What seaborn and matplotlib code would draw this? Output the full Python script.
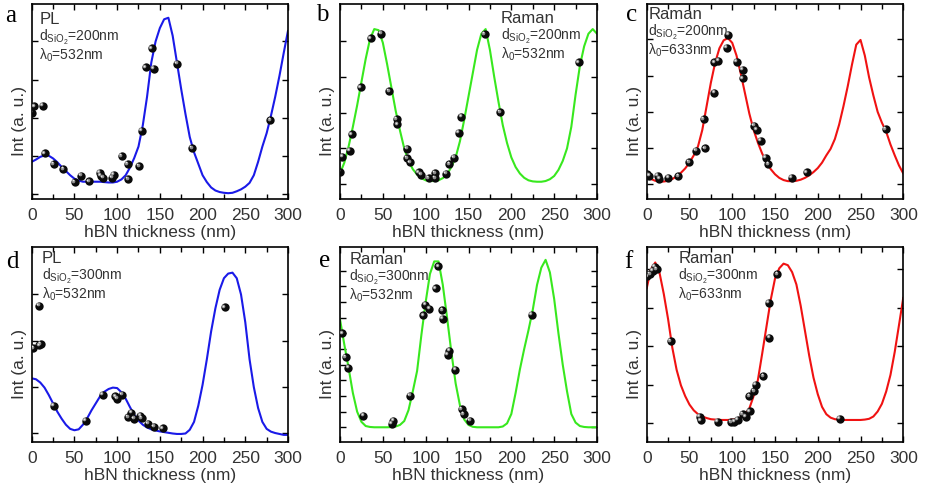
import numpy as np
import pandas as pd
import matplotlib
matplotlib.use("Agg")
import matplotlib.pyplot as plt
from matplotlib.ticker import MultipleLocator, FixedLocator, NullFormatter
from matplotlib.transforms import ScaledTranslation
import seaborn as sns

sns.set_theme(style="ticks")
plt.rcParams["font.family"] = ["Liberation Sans", "DejaVu Sans"]
plt.rcParams["mathtext.fontset"] = "custom"
plt.rcParams["mathtext.rm"] = "Liberation Sans"
plt.rcParams["mathtext.it"] = "Liberation Sans:italic"
plt.rcParams["mathtext.bf"] = "Liberation Sans:bold"

TEXT = "#333333"

# thickness grid of the calculated enhancement curves (nm)
thickness = np.arange(0, 301, 5)

# (a) PL, 200 nm SiO2, 532 nm excitation
a_meas_x = [0, 3.1, 12.9, 15.6, 25.7, 37.0, 50.3, 58.0, 67.4, 79.9, 80.6, 83.8, 94.3,
            96.2, 105.6, 112.2, 113.0, 125.8, 129.0, 133.6, 140.3, 142.6, 170.3, 187.8, 279.3]
a_meas_y = [2.13, 2.30, 2.32, 1.07, 0.79, 0.66, 0.32, 0.48, 0.34, 0.57, 0.48, 0.43, 0.43,
            0.51, 1.00, 0.79, 0.40, 0.74, 1.66, 3.32, 3.82, 3.28, 3.42, 1.21, 1.94]
a_fit = [0.85, 0.91, 0.98, 1.02, 1.01, 0.94, 0.84, 0.72, 0.61, 0.50,
         0.41, 0.36, 0.33, 0.33, 0.33, 0.33, 0.33, 0.32, 0.31, 0.31,
         0.33, 0.39, 0.50, 0.70, 0.95, 1.25, 1.80, 2.55, 3.45, 4.00,
         4.35, 4.58, 4.62, 4.15, 3.45, 2.75, 2.10, 1.50, 1.10, 0.80,
         0.50, 0.32, 0.18, 0.10, 0.06, 0.04, 0.03, 0.04, 0.08, 0.13,
         0.20, 0.30, 0.50, 0.85, 1.25, 1.60, 2.05, 2.55, 3.10, 3.70,
         4.28]

# (b) Raman, 200 nm SiO2, 532 nm excitation
b_meas_x = [0, 2.7, 11.7, 13.6, 24.5, 36.2, 47.9, 57.3, 66.2, 67.0, 78.3, 78.3, 81.8,
            92.0, 94.7, 103.6, 111.0, 111.0, 123.9, 127.8, 133.2, 138.7, 141.8, 168.7, 187.0, 279.0]
b_meas_y = [0.35, 0.77, 0.94, 1.39, 2.70, 4.07, 4.20, 2.60, 1.82, 1.67, 0.99, 0.73, 0.61,
            0.33, 0.26, 0.17, 0.31, 0.17, 0.29, 0.56, 0.74, 1.43, 1.88, 4.19, 2.01, 3.40]
b_fit = [0.30, 0.60, 1.05, 1.60, 2.20, 2.85, 3.50, 4.05, 4.33, 4.30,
         3.95, 3.35, 2.70, 2.05, 1.50, 1.00, 0.65, 0.42, 0.27, 0.17,
         0.11, 0.09, 0.09, 0.11, 0.17, 0.28, 0.48, 0.75, 1.20, 1.80,
         2.45, 3.10, 3.75, 4.20, 4.33, 3.75, 3.00, 2.30, 1.65, 1.15,
         0.75, 0.48, 0.30, 0.18, 0.11, 0.08, 0.07, 0.07, 0.09, 0.14,
         0.23, 0.40, 0.65, 1.00, 1.60, 2.50, 3.30, 3.85, 4.20, 4.33,
         4.20]

# (c) Raman, 200 nm SiO2, 633 nm excitation
c_meas_x = [0, 3.1, 12.9, 14.8, 25.3, 37.0, 49.5, 57.7, 67.0, 68.2, 79.1, 79.1, 83.8,
            93.5, 95.5, 105.6, 112.2, 112.2, 125.5, 128.6, 133.6, 139.5, 142.2, 169.9, 187.4, 279.3]
c_meas_y = [0.29, 0.24, 0.24, 0.15, 0.19, 0.23, 0.61, 0.93, 1.80, 0.99, 3.36, 2.53, 3.40,
            3.77, 4.12, 3.38, 3.16, 2.92, 1.61, 1.50, 1.20, 0.73, 0.56, 0.19, 0.33, 1.52]
c_fit = [0.22, 0.15, 0.10, 0.08, 0.08, 0.10, 0.15, 0.22, 0.32, 0.44,
         0.60, 0.80, 1.05, 1.50, 2.15, 2.80, 3.35, 3.75, 3.97, 4.03,
         3.90, 3.55, 3.05, 2.50, 1.95, 1.50, 1.15, 0.85, 0.62, 0.42,
         0.28, 0.18, 0.12, 0.09, 0.09, 0.10, 0.13, 0.18, 0.25, 0.34,
         0.45, 0.60, 0.80, 0.98, 1.25, 1.65, 2.15, 2.70, 3.30, 3.85,
         3.98, 3.55, 2.95, 2.45, 2.00, 1.70, 1.45, 1.10, 0.80, 0.52,
         0.30]

# (d) PL, 300 nm SiO2, 532 nm excitation
d_meas_x = [1.9, 8.6, 9.0, 10.5, 26.0, 63.5, 83.0, 98.0, 100.0, 105.8, 112.8, 116.7,
            119.8, 127.2, 128.8, 136.2, 143.2, 153.4, 225.9]
d_meas_y = [1.84, 2.76, 1.90, 1.93, 0.60, 0.28, 0.83, 0.80, 0.75, 0.84, 0.35, 0.45,
            0.32, 0.38, 0.33, 0.21, 0.15, 0.11, 2.72]
d_fit = [1.19, 1.17, 1.10, 0.99, 0.83, 0.65, 0.47, 0.32, 0.19, 0.10,
         0.07, 0.09, 0.19, 0.33, 0.50, 0.65, 0.80, 0.90, 0.96, 0.99,
         0.98, 0.89, 0.75, 0.57, 0.40, 0.28, 0.19, 0.13, 0.09, 0.065,
         0.045, 0.03, 0.015, 0.0, -0.01, -0.01, 0.0, 0.08, 0.25, 0.60,
         1.05, 1.60, 2.20, 2.70, 3.10, 3.35, 3.45, 3.47, 3.35, 3.00,
         2.40, 1.60, 1.00, 0.55, 0.25, 0.10, 0.04, 0.01, -0.01, -0.03,
         -0.03]

# (e) Raman, 300 nm SiO2, 532 nm excitation
e_meas_x = [2.7, 6.6, 9.7, 27.3, 60.4, 62.3, 81.8, 97.4, 99.7, 104.4, 111.8, 114.9,
            119.6, 120.0, 125.8, 127.8, 134.8, 142.2, 144.2, 151.9, 224.0]
e_meas_y = [6.00, 4.48, 3.79, 0.75, 0.21, 0.43, 2.01, 7.15, 7.82, 7.58, 8.87, 10.28,
            7.49, 6.94, 4.65, 4.90, 3.68, 1.16, 0.84, 0.43, 7.19]
e_fit = [6.90, 5.30, 3.80, 2.20, 1.00, 0.35, 0.08, 0.02, 0.00, 0.00,
         0.00, 0.00, 0.01, 0.05, 0.15, 0.40, 1.10, 2.30, 3.60, 5.90,
         8.00, 9.80, 10.60, 10.60, 9.10, 7.00, 4.80, 2.80, 1.40, 0.50,
         0.15, 0.03, 0.00, 0.00, 0.00, 0.00, 0.00, 0.00, 0.05, 0.25,
         0.85, 2.20, 3.70, 5.00, 6.20, 7.50, 9.10, 10.20, 10.70, 9.90,
         8.20, 6.00, 4.00, 2.30, 0.85, 0.30, 0.08, 0.02, 0.00, 0.00,
         0.00]

# (f) Raman, 300 nm SiO2, 633 nm excitation
f_meas_x = [0.8, 3.9, 7.0, 9.7, 11.7, 28.0, 62.3, 63.5, 83.0, 98.6, 102.5, 106.4, 112.2,
            116.0, 120.8, 120.0, 125.8, 127.8, 136.4, 143.4, 142.6, 152.7, 226.0]
f_meas_y = [3.81, 3.87, 3.96, 4.06, 4.00, 2.13, 0.17, 0.07, 0.04, 0.02, 0.04, 0.09, 0.23,
            0.17, 0.30, 0.70, 0.83, 1.00, 1.22, 2.22, 3.13, 3.87, 0.11]
f_fit = [3.50, 4.00, 4.17, 3.90, 3.35, 2.70, 1.95, 1.38, 0.98, 0.70,
         0.48, 0.33, 0.23, 0.17, 0.13, 0.10, 0.09, 0.08, 0.08, 0.08,
         0.09, 0.11, 0.15, 0.22, 0.38, 0.70, 1.12, 1.80, 2.50, 3.20,
         3.75, 4.02, 4.14, 4.10, 3.92, 3.60, 3.05, 2.40, 1.75, 1.18,
         0.75, 0.42, 0.23, 0.14, 0.10, 0.09, 0.08, 0.08, 0.08, 0.08,
         0.08, 0.09, 0.11, 0.17, 0.30, 0.50, 0.82, 1.25, 1.85, 2.55,
         3.26]

letters = ["a", "b", "c", "d", "e", "f"]
signals = ["PL", "Raman", "Raman", "PL", "Raman", "Raman"]
oxide_nm = [200, 200, 200, 300, 300, 300]
laser_nm = [532, 532, 633, 532, 532, 633]
meas_x = [a_meas_x, b_meas_x, c_meas_x, d_meas_x, e_meas_x, f_meas_x]
meas_y = [a_meas_y, b_meas_y, c_meas_y, d_meas_y, e_meas_y, f_meas_y]
fits = [a_fit, b_fit, c_fit, d_fit, e_fit, f_fit]

W, H = 925, 492
BLUE, GREEN, RED = "#1a1ae8", "#38e81e", "#f01212"
line_colors = [BLUE, GREEN, RED, BLUE, GREEN, RED]

# axes boxes in pixels: left, top, right, bottom
boxes = [(31.7, 4.0, 288.0, 199.3), (340.0, 4.0, 597.0, 199.3), (646.7, 4.0, 903.3, 199.3),
         (31.7, 246.7, 288.0, 442.3), (340.0, 246.7, 597.0, 442.3), (646.7, 246.7, 903.3, 442.3)]
ylims = [(-0.13, 4.98), (-0.42, 5.03), (-0.41, 4.97), (-0.19, 4.03), (-0.96, 11.54), (-0.5, 4.58)]
ntick = [4, 4, 4, 3, 10, 4]
# annotation: left (axes fraction) and baselines (pixels below the top spine)
note_x = [0.03, 0.625, 0.006, 0.039, 0.036, 0.123]
note_base = [(20, 37, 56), (19, 36, 55), (15, 32, 51), (16, 33, 52), (17, 34, 53), (16, 33, 52)]
# panel letters: left and baseline in pixels
letter_pos = [(5, 22), (316, 21), (626, 21), (6, 268), (319, 267), (624, 268)]

fig = plt.figure(figsize=(W / 100, H / 100), dpi=100)

for i in range(6):
    l, t, r, b = boxes[i]
    ax = fig.add_axes([l / W, 1 - b / H, (r - l) / W, (b - t) / H])
    fit_df = pd.DataFrame({"thickness": thickness, "intensity": fits[i]})
    sns.lineplot(data=fit_df, x="thickness", y="intensity", ax=ax, color=line_colors[i],
                 lw=1.5, zorder=2)
    pts = pd.DataFrame({"thickness": meas_x[i], "intensity": meas_y[i]})
    sns.scatterplot(data=pts, x="thickness", y="intensity", ax=ax, color="#0a0a0a",
                    s=36, linewidth=0, zorder=3)
    # glossy highlight on each sphere
    sns.scatterplot(data=pts, x="thickness", y="intensity", ax=ax, color="#8c8c8c",
                    s=7, linewidth=0, zorder=4)
    ax.collections[-1].set_offset_transform(
        ax.transData + ScaledTranslation(-1.1 / 72, 1.1 / 72, fig.dpi_scale_trans))
    sns.scatterplot(data=pts, x="thickness", y="intensity", ax=ax, color="#e6e6e6",
                    s=1.5, linewidth=0, zorder=5)
    ax.collections[-1].set_offset_transform(
        ax.transData + ScaledTranslation(-1.3 / 72, 1.3 / 72, fig.dpi_scale_trans))

    ax.set_xlim(0, 300)
    ax.set_ylim(*ylims[i])
    ax.xaxis.set_major_locator(MultipleLocator(50))
    ax.xaxis.set_minor_locator(MultipleLocator(25))
    ax.yaxis.set_major_locator(FixedLocator(list(range(ntick[i] + 1))))
    ax.yaxis.set_major_formatter(NullFormatter())
    ax.tick_params(which="both", direction="in", top=True, right=True, width=1.0,
                   color="black")
    ax.tick_params(which="major", length=4.5)
    ax.tick_params(which="minor", length=3.5)
    ax.tick_params(axis="x", labelsize=12.5, labelcolor=TEXT, pad=6)
    ax.tick_params(axis="y", labelleft=False)
    for sp in ax.spines.values():
        sp.set_linewidth(1.2)
        sp.set_color("black")
    ax.set_xlabel("hBN thickness (nm)", fontsize=12.5, color=TEXT, labelpad=2)
    ax.set_ylabel("Int (a. u.)", fontsize=12.5, color=TEXT)
    ax.yaxis.set_label_coords(-0.018, 0.40)

    hpx = b - t
    nb = note_base[i]
    ax.text(note_x[i], 1 - nb[0] / hpx, signals[i], transform=ax.transAxes,
            fontsize=12, color=TEXT, va="baseline", ha="left")
    ax.text(note_x[i], 1 - nb[1] / hpx, r"d$_{\rm SiO_2}$=%dnm" % oxide_nm[i],
            transform=ax.transAxes, fontsize=10, color=TEXT, va="baseline", ha="left")
    ax.text(note_x[i], 1 - nb[2] / hpx, r"λ$_{\rm 0}$=%dnm" % laser_nm[i],
            transform=ax.transAxes, fontsize=10, color=TEXT, va="baseline", ha="left")

    lx, ly = letter_pos[i]
    fig.text(lx / W, 1 - ly / H, letters[i], fontfamily=["Liberation Serif", "DejaVu Serif"],
             fontsize=18, color="black", va="baseline", ha="left")

fig.savefig("out.png", dpi=100)
